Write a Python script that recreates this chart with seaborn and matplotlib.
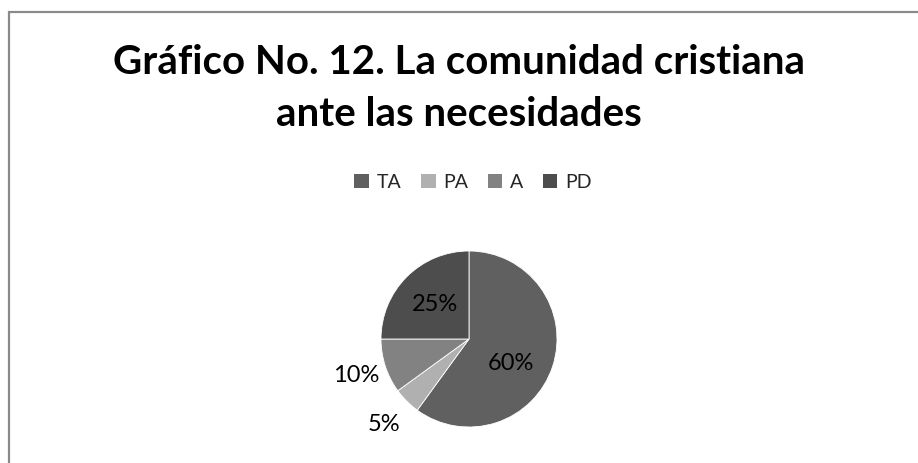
import numpy as np
import matplotlib
matplotlib.use('Agg')
import matplotlib.pyplot as plt
from matplotlib.patches import Patch, Rectangle
import seaborn as sns

# data
categories = ['TA', 'PA', 'A', 'PD']
shares = [60, 5, 10, 25]
pct_labels = ['60%', '5%', '10%', '25%']
label_dist = [0.55, 1.37, 1.35, 0.55]
colors = ['#606060', '#b0b0b0', '#828282', '#4d4d4d']

sns.set_theme(style='white')
plt.rcParams['font.family'] = ['Lato', 'DejaVu Sans']

W, H = 918, 463
fig = plt.figure(figsize=(W / 100, H / 100), dpi=100)
fig.patch.set_facecolor('white')

# chart border (right and bottom run off the image)
fig.add_artist(Rectangle((8.5 / W, -0.1), 1.2, 1.1 - 12.5 / H,
                         transform=fig.transFigure, fill=False,
                         edgecolor='#8a8a8a', linewidth=1.6))

# pie axes: center (469, 339), radius 88 px
r = 88
cx, cy = 469, 339
ax = fig.add_axes([(cx - r) / W, (H - cy - r) / H, 2 * r / W, 2 * r / H])
wedges, _ = ax.pie(shares, colors=colors, startangle=90, counterclock=False,
                   radius=1, wedgeprops=dict(edgecolor='white', linewidth=0.6))
ax.set_xlim(-1, 1)
ax.set_ylim(-1, 1)
ax.set_aspect('equal')
ax.axis('off')

for w, lab, d in zip(wedges, pct_labels, label_dist):
    ang = np.deg2rad((w.theta1 + w.theta2) / 2)
    if lab == '60%':
        ang = np.deg2rad(-30)
    ax.text(d * np.cos(ang), d * np.sin(ang), lab, ha='center', va='center',
            fontsize=17, color='black')

fig.text(0.5, 1 - 62 / H, 'Gráfico No. 12. La comunidad cristiana',
         ha='center', va='center', fontsize=29, fontweight='bold', color='black')
fig.text(0.5, 1 - 115 / H, 'ante las necesidades',
         ha='center', va='center', fontsize=29, fontweight='bold', color='black')

handles = [Patch(facecolor=c, edgecolor='none', label=n) for c, n in zip(colors, categories)]
fig.legend(handles=handles, loc='center', bbox_to_anchor=(473 / W, 1 - 182 / H),
           ncol=4, frameon=False, fontsize=14, handlelength=0.75, handleheight=0.75,
           handletextpad=0.4, columnspacing=1.0)

fig.savefig('out.png', dpi=100, facecolor='white')
